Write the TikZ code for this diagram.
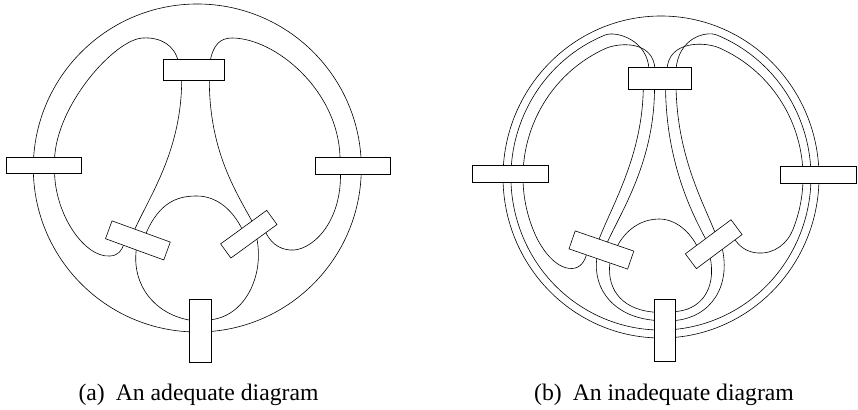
\documentclass[tikz,border=0pt]{standalone}
\usepackage{fontspec}
\setmainfont{Liberation Serif}
\newfontfamily\capserif{Liberation Serif}
\begin{document}
\begin{tikzpicture}[x=1pt,y=-1pt,
  strand/.style={line width=0.6pt, line join=round},
  box/.style={draw, fill=white, line width=0.6pt, inner sep=0pt, outer sep=0pt},
  captext/.style={anchor=base, inner sep=0pt, font=\capserif\fontsize{23.7}{28}\selectfont}]
\useasboundingbox (0,0) rectangle (858,409);

% ===== (a) adequate diagram =====
\draw[strand] (197.3,168) circle[radius=164];
% left loop
\draw[strand] (178.3,62) .. controls (175,45) and (160,37) .. (143,38)
  .. controls (115,39) and (56,105) .. (54.5,160) -- (54.5,170)
  .. controls (54.5,215) and (85,258) .. (110,256)
  .. controls (118,255.5) and (122,251) .. (124,243);
% right loop
\draw[strand] (210,62) .. controls (213,45) and (220,38) .. (232,38)
  .. controls (275,38) and (338,90) .. (340,157) -- (340.5,174)
  .. controls (341,225) and (310,252) .. (290,250)
  .. controls (278,249) and (270,242) .. (265,231);
% necks
\draw[strand] (181.7,78) .. controls (182,150) and (150,195) .. (134,231);
\draw[strand] (209.3,78) .. controls (209,150) and (235,190) .. (253,223);
% arch
\draw[strand] (145.5,234.5) .. controls (160,200) and (180,196) .. (197,196)
  .. controls (215,196) and (232,208) .. (242.5,230);
% bottom lobes
\draw[strand] (136.5,248) .. controls (131,285) and (155,315) .. (192,320.5);
\draw[strand] (256.5,237) .. controls (265,275) and (245,318) .. (208,320);
% boxes
\node[box, minimum width=61pt, minimum height=21pt] (aT) at (193.7,70) {};
\node[box, minimum width=75pt, minimum height=16pt] (aL) at (43.5,165) {};
\node[box, minimum width=75pt, minimum height=17pt] (aR) at (352.5,165.5) {};
\node[box, minimum width=22pt, minimum height=63pt] (aB) at (200,330.5) {};
\node[box, minimum width=62pt, minimum height=19pt, rotate=-20] (aLL) at (137.9,240.4) {};
\node[box, minimum width=57pt, minimum height=17.5pt, rotate=36] (aLR) at (248.8,234.2) {};
\node[captext] (capa) at (198.5,400) {(a)\hspace{11pt}An adequate diagram};

% ===== (b) inadequate diagram =====
\draw[strand] (661,177) ellipse[x radius=158, y radius=161];
% outer doubled strand (left top, around bottom, right top)
\draw[strand] (649,70) .. controls (648,40) and (616.1,30.5) .. (605,35.06)
  arc[start angle=248.1, end angle=-68.1, x radius=150, y radius=153]
  .. controls (705.9,30.5) and (678,38) .. (676,70);
% inner left strand with hook
\draw[strand] (655,70) .. controls (654,40) and (618.6,42.4) .. (605,48.7)
  arc[start angle=245.52, end angle=155.71, x radius=140, y radius=141]
  .. controls (541.1,247.8) and (555,269) .. (572,268.5)
  .. controls (580,268.2) and (585,262) .. (587,252.5);
% inner right strand with hook
\draw[strand] (667,70) .. controls (668,40) and (705.3,41.8) .. (719,47.8)
  arc[start angle=-66.42, end angle=22.08, x radius=140, y radius=141]
  .. controls (787.5,243) and (775,254) .. (758,253)
  .. controls (748,252.5) and (739,247) .. (734,238);
% necks
\draw[strand] (643.3,86) .. controls (643,155) and (612,205) .. (598.5,240.5);
\draw[strand] (654.5,86) .. controls (655,160) and (622,210) .. (607,243);
\draw[strand] (665.5,86) .. controls (666,160) and (690,210) .. (706.5,240.5);
\draw[strand] (676,86) .. controls (677,155) and (702,200) .. (715.5,233.5);
% arch
\draw[strand] (617,246.5) .. controls (628,226) and (645,219) .. (659,219)
  .. controls (676,219) and (690,232) .. (697.5,247);
% bottom lobes
\draw[strand] (597,257) .. controls (592,290) and (615,318) .. (657,320.5);
\draw[strand] (610,262) .. controls (606,292) and (625,311) .. (657,312.3);
\draw[strand] (722,247.5) .. controls (731,285) and (712,318) .. (673,320.7);
\draw[strand] (710,256.5) .. controls (717,290) and (700,311) .. (673,311.7);
% boxes
\node[box, minimum width=63pt, minimum height=22pt] (bT) at (659.5,78) {};
\node[box, minimum width=76pt, minimum height=17pt] (bL) at (510.7,174) {};
\node[box, minimum width=76pt, minimum height=17pt] (bR) at (818,175.2) {};
\node[box, minimum width=21.4pt, minimum height=62.4pt] (bB) at (665,330.5) {};
\node[box, minimum width=62pt, minimum height=19pt, rotate=-19] (bLL) at (601.4,250) {};
\node[box, minimum width=57pt, minimum height=18.5pt, rotate=36.7] (bLR) at (713.7,244.2) {};
\node[captext] (capb) at (664,400) {(b)\hspace{11pt}An inadequate diagram};
\end{tikzpicture}
\end{document}
